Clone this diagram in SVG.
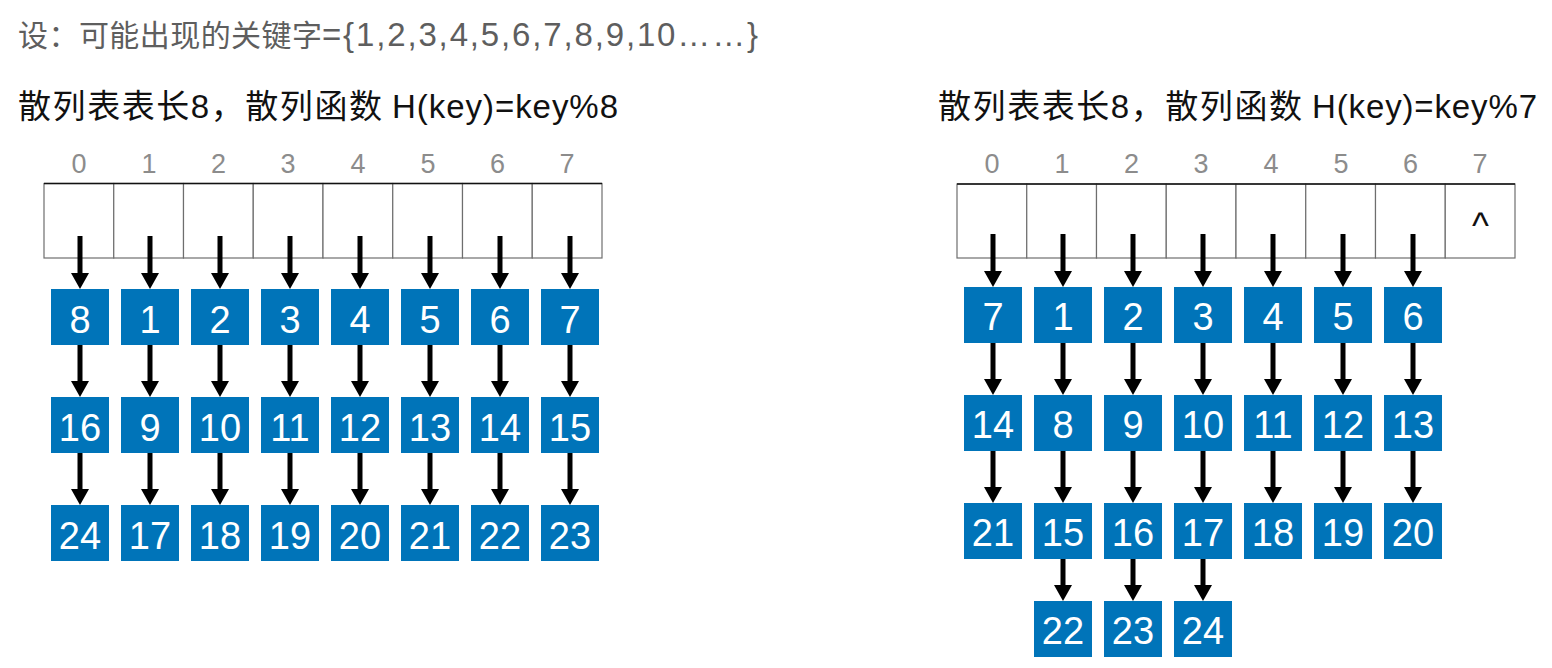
<svg xmlns="http://www.w3.org/2000/svg" width="1552" height="668" viewBox="0 0 1552 668">
<style>
.t1{font-family:"Liberation Sans","Noto Sans CJK SC",sans-serif;font-size:30px;fill:#5e5e5e}
.t2{font-family:"Liberation Sans","Noto Sans CJK SC",sans-serif;font-size:33px;fill:#111}
.lat{font-size:33px}
.idx{font-family:"Liberation Sans",sans-serif;font-size:27px;fill:#8c8c8c;text-anchor:middle}
.cell{fill:#fff;stroke:#6e6e6e;stroke-width:1.2}
.top{stroke:#111;stroke-width:1.6}
.box{fill:#0074b9}
.num{font-family:"Liberation Sans",sans-serif;font-size:38px;fill:#fff;text-anchor:middle}
.car{font-family:"Liberation Sans",sans-serif;font-size:36px;fill:#111;text-anchor:middle}
.arr{stroke:#000;stroke-width:5;fill:none;marker-end:url(#ah)}
</style>
<defs>
<marker id="ah" markerUnits="userSpaceOnUse" markerWidth="17" markerHeight="18" refX="4" refY="9" orient="auto" viewBox="0 0 17 18">
<path d="M0,0 L16,9 L0,18 z" fill="#000"/>
</marker>
<rect id="b" class="box" width="58" height="56"/>
</defs>
<rect width="1552" height="668" fill="#fff"/>
<g id="titles">
<text class="t1" y="46"><tspan x="18" textLength="304" lengthAdjust="spacing">设：可能出现的关键字</tspan><tspan class="lat" x="322" textLength="436" lengthAdjust="spacing">={1,2,3,4,5,6,7,8,9,10……}</tspan></text>
<text class="t2" y="118"><tspan x="18" textLength="364" lengthAdjust="spacing">散列表表长8，散列函数</tspan><tspan x="392" textLength="226" lengthAdjust="spacing">H(key)=key%8</tspan></text>
<text class="t2" y="118"><tspan x="938" textLength="364" lengthAdjust="spacing">散列表表长8，散列函数</tspan><tspan x="1312" textLength="225" lengthAdjust="spacing">H(key)=key%7</tspan></text>
</g>
<g id="table-left">
<g class="idx">
<text x="79" y="173">0</text><text x="149" y="173">1</text><text x="218.5" y="173">2</text><text x="288" y="173">3</text><text x="358" y="173">4</text><text x="428" y="173">5</text><text x="497.5" y="173">6</text><text x="567" y="173">7</text>
</g>
<rect class="cell" x="44" y="183.5" width="69.75" height="74.5"/>
<rect class="cell" x="113.75" y="183.5" width="69.75" height="74.5"/>
<rect class="cell" x="183.5" y="183.5" width="69.75" height="74.5"/>
<rect class="cell" x="253.25" y="183.5" width="69.75" height="74.5"/>
<rect class="cell" x="323" y="183.5" width="69.75" height="74.5"/>
<rect class="cell" x="392.75" y="183.5" width="69.75" height="74.5"/>
<rect class="cell" x="462.5" y="183.5" width="69.75" height="74.5"/>
<rect class="cell" x="532.25" y="183.5" width="69.75" height="74.5"/>
<line class="top" x1="44" y1="183.5" x2="602" y2="183.5"/>
</g>
<g id="table-right">
<g class="idx">
<text x="992" y="173">0</text><text x="1062" y="173">1</text><text x="1131.5" y="173">2</text><text x="1201" y="173">3</text><text x="1271" y="173">4</text><text x="1341" y="173">5</text><text x="1410.5" y="173">6</text><text x="1480" y="173">7</text>
</g>
<rect class="cell" x="957" y="184" width="69.75" height="74"/>
<rect class="cell" x="1026.75" y="184" width="69.75" height="74"/>
<rect class="cell" x="1096.5" y="184" width="69.75" height="74"/>
<rect class="cell" x="1166.25" y="184" width="69.75" height="74"/>
<rect class="cell" x="1236" y="184" width="69.75" height="74"/>
<rect class="cell" x="1305.75" y="184" width="69.75" height="74"/>
<rect class="cell" x="1375.5" y="184" width="69.75" height="74"/>
<rect class="cell" x="1445.25" y="184" width="69.75" height="74"/>
<line class="top" x1="957" y1="184" x2="1515" y2="184"/>
<text class="car" x="1480.5" y="238">^</text>
</g>
<g id="connectors">
<line class="arr" x1="80" y1="236" x2="80" y2="277"/><line class="arr" x1="150" y1="236" x2="150" y2="277"/><line class="arr" x1="220" y1="236" x2="220" y2="277"/><line class="arr" x1="290" y1="236" x2="290" y2="277"/><line class="arr" x1="360" y1="236" x2="360" y2="277"/><line class="arr" x1="430" y1="236" x2="430" y2="277"/><line class="arr" x1="500" y1="236" x2="500" y2="277"/><line class="arr" x1="570" y1="236" x2="570" y2="277"/>
<line class="arr" x1="80" y1="345" x2="80" y2="385"/><line class="arr" x1="150" y1="345" x2="150" y2="385"/><line class="arr" x1="220" y1="345" x2="220" y2="385"/><line class="arr" x1="290" y1="345" x2="290" y2="385"/><line class="arr" x1="360" y1="345" x2="360" y2="385"/><line class="arr" x1="430" y1="345" x2="430" y2="385"/><line class="arr" x1="500" y1="345" x2="500" y2="385"/><line class="arr" x1="570" y1="345" x2="570" y2="385"/>
<line class="arr" x1="80" y1="453" x2="80" y2="493"/><line class="arr" x1="150" y1="453" x2="150" y2="493"/><line class="arr" x1="220" y1="453" x2="220" y2="493"/><line class="arr" x1="290" y1="453" x2="290" y2="493"/><line class="arr" x1="360" y1="453" x2="360" y2="493"/><line class="arr" x1="430" y1="453" x2="430" y2="493"/><line class="arr" x1="500" y1="453" x2="500" y2="493"/><line class="arr" x1="570" y1="453" x2="570" y2="493"/>
<line class="arr" x1="993" y1="234" x2="993" y2="275"/><line class="arr" x1="1063" y1="234" x2="1063" y2="275"/><line class="arr" x1="1133" y1="234" x2="1133" y2="275"/><line class="arr" x1="1203" y1="234" x2="1203" y2="275"/><line class="arr" x1="1273" y1="234" x2="1273" y2="275"/><line class="arr" x1="1343" y1="234" x2="1343" y2="275"/><line class="arr" x1="1413" y1="234" x2="1413" y2="275"/>
<line class="arr" x1="993" y1="343" x2="993" y2="383"/><line class="arr" x1="1063" y1="343" x2="1063" y2="383"/><line class="arr" x1="1133" y1="343" x2="1133" y2="383"/><line class="arr" x1="1203" y1="343" x2="1203" y2="383"/><line class="arr" x1="1273" y1="343" x2="1273" y2="383"/><line class="arr" x1="1343" y1="343" x2="1343" y2="383"/><line class="arr" x1="1413" y1="343" x2="1413" y2="383"/>
<line class="arr" x1="993" y1="451" x2="993" y2="491"/><line class="arr" x1="1063" y1="451" x2="1063" y2="491"/><line class="arr" x1="1133" y1="451" x2="1133" y2="491"/><line class="arr" x1="1203" y1="451" x2="1203" y2="491"/><line class="arr" x1="1273" y1="451" x2="1273" y2="491"/><line class="arr" x1="1343" y1="451" x2="1343" y2="491"/><line class="arr" x1="1413" y1="451" x2="1413" y2="491"/>
<line class="arr" x1="1063" y1="559" x2="1063" y2="589"/><line class="arr" x1="1133" y1="559" x2="1133" y2="589"/><line class="arr" x1="1203" y1="559" x2="1203" y2="589"/>
</g>
<g id="L8"><use href="#b" x="51" y="289"/><text class="num" x="80" y="333">8</text></g>
<g id="L1"><use href="#b" x="121" y="289"/><text class="num" x="150" y="333">1</text></g>
<g id="L2"><use href="#b" x="191" y="289"/><text class="num" x="220" y="333">2</text></g>
<g id="L3"><use href="#b" x="261" y="289"/><text class="num" x="290" y="333">3</text></g>
<g id="L4"><use href="#b" x="331" y="289"/><text class="num" x="360" y="333">4</text></g>
<g id="L5"><use href="#b" x="401" y="289"/><text class="num" x="430" y="333">5</text></g>
<g id="L6"><use href="#b" x="471" y="289"/><text class="num" x="500" y="333">6</text></g>
<g id="L7"><use href="#b" x="541" y="289"/><text class="num" x="570" y="333">7</text></g>
<g id="L16"><use href="#b" x="51" y="397"/><text class="num" x="80" y="441">16</text></g>
<g id="L9"><use href="#b" x="121" y="397"/><text class="num" x="150" y="441">9</text></g>
<g id="L10"><use href="#b" x="191" y="397"/><text class="num" x="220" y="441">10</text></g>
<g id="L11"><use href="#b" x="261" y="397"/><text class="num" x="290" y="441">11</text></g>
<g id="L12"><use href="#b" x="331" y="397"/><text class="num" x="360" y="441">12</text></g>
<g id="L13"><use href="#b" x="401" y="397"/><text class="num" x="430" y="441">13</text></g>
<g id="L14"><use href="#b" x="471" y="397"/><text class="num" x="500" y="441">14</text></g>
<g id="L15"><use href="#b" x="541" y="397"/><text class="num" x="570" y="441">15</text></g>
<g id="L24"><use href="#b" x="51" y="505"/><text class="num" x="80" y="549">24</text></g>
<g id="L17"><use href="#b" x="121" y="505"/><text class="num" x="150" y="549">17</text></g>
<g id="L18"><use href="#b" x="191" y="505"/><text class="num" x="220" y="549">18</text></g>
<g id="L19"><use href="#b" x="261" y="505"/><text class="num" x="290" y="549">19</text></g>
<g id="L20"><use href="#b" x="331" y="505"/><text class="num" x="360" y="549">20</text></g>
<g id="L21"><use href="#b" x="401" y="505"/><text class="num" x="430" y="549">21</text></g>
<g id="L22"><use href="#b" x="471" y="505"/><text class="num" x="500" y="549">22</text></g>
<g id="L23"><use href="#b" x="541" y="505"/><text class="num" x="570" y="549">23</text></g>
<g id="R7"><use href="#b" x="964" y="287"/><text class="num" x="993" y="330">7</text></g>
<g id="R1"><use href="#b" x="1034" y="287"/><text class="num" x="1063" y="330">1</text></g>
<g id="R2"><use href="#b" x="1104" y="287"/><text class="num" x="1133" y="330">2</text></g>
<g id="R3"><use href="#b" x="1174" y="287"/><text class="num" x="1203" y="330">3</text></g>
<g id="R4"><use href="#b" x="1244" y="287"/><text class="num" x="1273" y="330">4</text></g>
<g id="R5"><use href="#b" x="1314" y="287"/><text class="num" x="1343" y="330">5</text></g>
<g id="R6"><use href="#b" x="1384" y="287"/><text class="num" x="1413" y="330">6</text></g>
<g id="R14"><use href="#b" x="964" y="395"/><text class="num" x="993" y="438">14</text></g>
<g id="R8"><use href="#b" x="1034" y="395"/><text class="num" x="1063" y="438">8</text></g>
<g id="R9"><use href="#b" x="1104" y="395"/><text class="num" x="1133" y="438">9</text></g>
<g id="R10"><use href="#b" x="1174" y="395"/><text class="num" x="1203" y="438">10</text></g>
<g id="R11"><use href="#b" x="1244" y="395"/><text class="num" x="1273" y="438">11</text></g>
<g id="R12"><use href="#b" x="1314" y="395"/><text class="num" x="1343" y="438">12</text></g>
<g id="R13"><use href="#b" x="1384" y="395"/><text class="num" x="1413" y="438">13</text></g>
<g id="R21"><use href="#b" x="964" y="503"/><text class="num" x="993" y="546">21</text></g>
<g id="R15"><use href="#b" x="1034" y="503"/><text class="num" x="1063" y="546">15</text></g>
<g id="R16"><use href="#b" x="1104" y="503"/><text class="num" x="1133" y="546">16</text></g>
<g id="R17"><use href="#b" x="1174" y="503"/><text class="num" x="1203" y="546">17</text></g>
<g id="R18"><use href="#b" x="1244" y="503"/><text class="num" x="1273" y="546">18</text></g>
<g id="R19"><use href="#b" x="1314" y="503"/><text class="num" x="1343" y="546">19</text></g>
<g id="R20"><use href="#b" x="1384" y="503"/><text class="num" x="1413" y="546">20</text></g>
<g id="R22"><use href="#b" x="1034" y="601"/><text class="num" x="1063" y="644">22</text></g>
<g id="R23"><use href="#b" x="1104" y="601"/><text class="num" x="1133" y="644">23</text></g>
<g id="R24"><use href="#b" x="1174" y="601"/><text class="num" x="1203" y="644">24</text></g>
</svg>
